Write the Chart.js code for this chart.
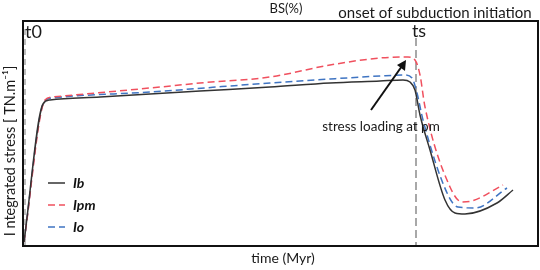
<!DOCTYPE html>
<html>
<head>
<meta charset="utf-8">
<script src="https://cdn.jsdelivr.net/npm/chart.js@4"></script>
<style>
html,body{margin:0;padding:0;background:#fff}
#wrap{width:540px;height:270px}
</style>
</head>
<body>
<div id="wrap"><canvas id="chartStress"></canvas></div>
<script>
// time values (arbitrary Myr units, ticks are not shown in the figure)
var IbTime=[1,20,27,77,127,177,247,307,357,380,387,392,397,407,422,432,442,474,490]
var IbStress=[4,142,146,149,152,155,159,163,165,166,164,156,131,96,46,33,32,43,56]
var IpmTime=[1,22,29,127,177,247,307,357,385,392,397,402,427,439,449,480]
var IpmStress=[4,146,149,158,163,169,181,188,189,186,171,139,59,44,45,61]
var IoTime=[1,21,29,127,247,307,357,382,389,394,400,425,435,452,484]
var IoStress=[4,144,148,154,163,167,170,171,168,153,126,51,39,38,58]
var seriesNames=['Ib','Ipm','Io']
var t0=0, ts=393

function pts(t,s){return t.map((v,i)=>({x:v,y:s[i]}))}

const FONT='Lato, "Open Sans", sans-serif'

const decorPlugin={
  id:'decor',
  beforeDatasetsDraw(chart){
    const ctx=chart.ctx, a=chart.chartArea, xs=chart.scales.x
    ctx.save()
    // t0 marker
    ctx.strokeStyle='#bdbdbd'; ctx.lineWidth=3; ctx.setLineDash([6,4])
    let x0=xs.getPixelForValue(t0)+1.5
    ctx.beginPath(); ctx.moveTo(x0,a.top+8); ctx.lineTo(x0,a.bottom); ctx.stroke()
    // ts marker
    ctx.strokeStyle='#a8a8a8'; ctx.lineWidth=2; ctx.setLineDash([8,4])
    let x1=xs.getPixelForValue(ts)
    ctx.beginPath(); ctx.moveTo(x1,a.top+17); ctx.lineTo(x1,a.bottom); ctx.stroke()
    ctx.restore()
  },
  afterDatasetsDraw(chart){
    const ctx=chart.ctx, a=chart.chartArea, xs=chart.scales.x
    ctx.save()
    // frame
    ctx.strokeStyle='#111'; ctx.lineWidth=2; ctx.setLineDash([])
    ctx.strokeRect(a.left,a.top,a.right-a.left,a.bottom-a.top)
    ctx.fillStyle='#1a1a1a'; ctx.textBaseline='middle'
    ctx.font='18px '+FONT; ctx.textAlign='left'
    ctx.fillText('t0',a.left+2,a.top+11)
    ctx.textAlign='center'
    ctx.fillText('ts',xs.getPixelForValue(ts)+3,a.top+10)
    ctx.font='13px '+FONT
    ctx.fillText('BS(%)',286,9)
    ctx.font='15px '+FONT
    ctx.fillText('onset of subduction initiation',435,13)
    ctx.font='13.5px '+FONT
    ctx.fillText('stress loading at pm',381,127)
    ctx.font='14px '+FONT
    ctx.fillText('time (Myr)',283,258)
    // arrow
    ctx.strokeStyle='#111'; ctx.lineWidth=2
    ctx.beginPath(); ctx.moveTo(371,110); ctx.lineTo(402,66); ctx.stroke()
    ctx.fillStyle='#111'
    ctx.beginPath(); ctx.moveTo(406,60); ctx.lineTo(405,71); ctx.lineTo(397,65); ctx.closePath(); ctx.fill()
    // y title
    ctx.save(); ctx.translate(10,151); ctx.rotate(-Math.PI/2)
    ctx.fillStyle='#1a1a1a'; ctx.font='14.5px '+FONT
    ctx.fillText('I ntegrated stress [ TN.m\u207B\u00B9]',0,0)
    ctx.restore()
    // legend
    const ly=[183,205,227]
    chart.data.datasets.forEach((d,i)=>{
      ctx.strokeStyle=d.borderColor; ctx.lineWidth=1.5; ctx.setLineDash(d.borderDash||[])
      ctx.beginPath(); ctx.moveTo(48,ly[i]); ctx.lineTo(65,ly[i]); ctx.stroke()
      ctx.setLineDash([])
      ctx.fillStyle='#111'; ctx.font='italic bold 14px '+FONT; ctx.textAlign='left'
      ctx.fillText(d.label,73,ly[i])
    })
    ctx.restore()
  }
}

new Chart(document.getElementById('chartStress'),{
  type:'line',
  data:{datasets:[
    {label:seriesNames[0],data:pts(IbTime,IbStress),borderColor:'#333333',borderWidth:1.5},
    {label:seriesNames[1],data:pts(IpmTime,IpmStress),borderColor:'#f0505e',borderWidth:1.5,borderDash:[7,4]},
    {label:seriesNames[2],data:pts(IoTime,IoStress),borderColor:'#3f74c2',borderWidth:1.5,borderDash:[7,4]}
  ]},
  options:{
    responsive:true,maintainAspectRatio:false,animation:false,
    layout:{padding:{left:23,right:2,top:21,bottom:24}},
    elements:{point:{radius:0},line:{cubicInterpolationMode:'monotone'}},
    scales:{
      x:{type:'linear',min:0,max:515,display:false},
      y:{min:0,max:225,display:false}
    },
    plugins:{legend:{display:false},tooltip:{enabled:false}}
  },
  plugins:[decorPlugin]
})
</script>
</body>
</html>
